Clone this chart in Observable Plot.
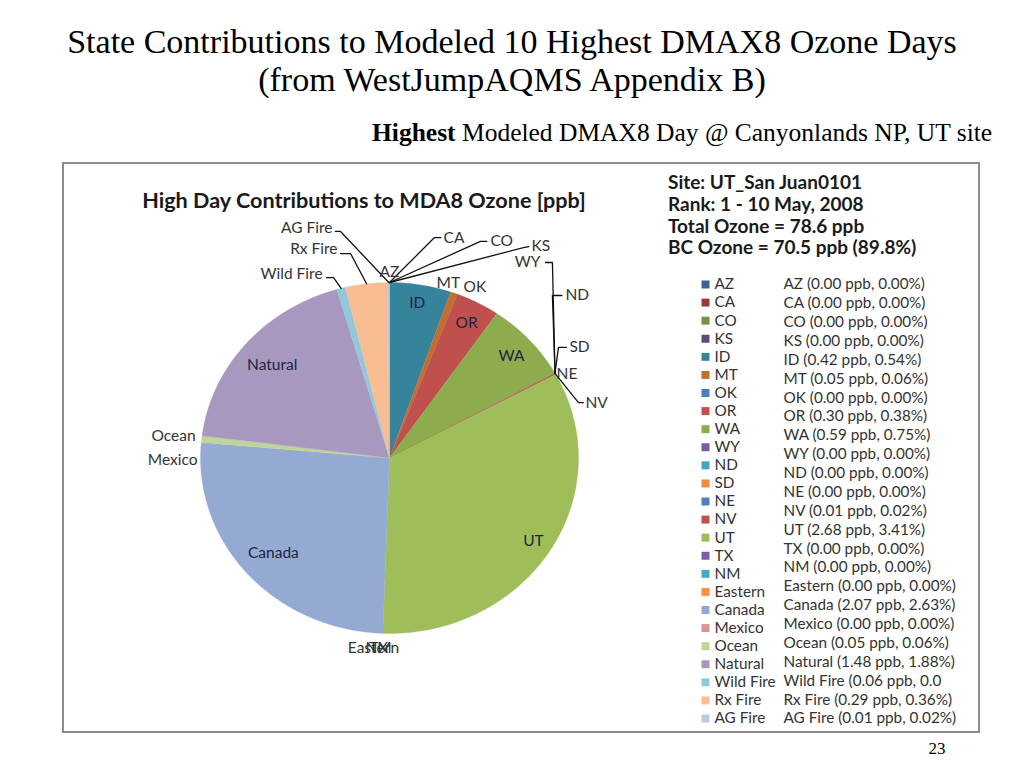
<!DOCTYPE html>
<html>
<head>
<meta charset="utf-8">
<script src="https://cdn.jsdelivr.net/npm/d3@7"></script>
<script src="https://cdn.jsdelivr.net/npm/@observablehq/plot@0.6"></script>
<style>
  body { margin: 0; background: #fff; }
  #page { position: relative; width: 1024px; height: 768px; overflow: hidden; background: #fff; }
  .abs { position: absolute; }
  #title { left: 0; width: 1024px; top: 23px; text-align: center; font-family: "Liberation Serif", serif; font-size: 34px; line-height: 38px; color: #000; white-space: nowrap; }
  #subtitle { left: 372px; top: 119px; font-family: "Liberation Serif", serif; font-size: 25.5px; line-height: 28px; color: #000; white-space: nowrap; }
  #frame { left: 62px; top: 162px; width: 914px; height: 567px; border: 2px solid #8c8c8c; }
  #charttitle { left: 64px; width: 600px; top: 186px; text-align: center; font-family: Lato, sans-serif; font-weight: bold; font-size: 21.6px; line-height: 28px; color: #1a1a1a; white-space: nowrap; }
  #info { left: 668px; top: 171px; font-family: Lato, sans-serif; font-weight: bold; font-size: 19px; line-height: 21.8px; color: #1a1a1a; white-space: nowrap; }
  #slideno { left: 915px; width: 44px; top: 739px; text-align: center; font-family: "Liberation Serif", serif; font-size: 17px; color: #000; }
  #pie, #legend, #values { position: absolute; }
  #pie { left: 0; top: 0; }
  #legend { left: 695px; top: 270px; }
  #values { left: 783px; top: 270px; }
</style>
</head>
<body>
<div id="page">
  <div id="title" class="abs"></div>
  <div id="subtitle" class="abs"></div>
  <div id="frame" class="abs"></div>
  <div id="charttitle" class="abs"></div>
  <div id="info" class="abs"></div>
  <div id="pie"></div>
  <div id="legend"></div>
  <div id="values"></div>
  <div id="slideno" class="abs">23</div>
</div>
<script>
// ---- Data ----
const titleLines = ["State Contributions to Modeled 10 Highest DMAX8 Ozone Days", "(from WestJumpAQMS Appendix B)"];
const subtitleBold = "Highest";
const subtitleRest = " Modeled DMAX8 Day @ Canyonlands NP, UT site";
const chartTitle = "High Day Contributions to MDA8 Ozone [ppb]";
const infoLines = ["Site: UT_San Juan0101", "Rank: 1 - 10 May, 2008", "Total Ozone = 78.6 ppb", "BC Ozone = 70.5 ppb (89.8%)"];

const categories = ["AZ","CA","CO","KS","ID","MT","OK","OR","WA","WY","ND","SD","NE","NV","UT","TX","NM","Eastern","Canada","Mexico","Ocean","Natural","Wild Fire","Rx Fire","AG Fire"];
const values     = [0, 0, 0, 0, 0.42, 0.05, 0, 0.30, 0.59, 0, 0, 0, 0, 0.01, 2.68, 0, 0, 0, 2.07, 0, 0.05, 1.48, 0.06, 0.29, 0.01];
// Value text column as printed in the picture (24 lines, no SD line; Wild Fire line is cut off)
const legendValueLabels = [
  "AZ (0.00 ppb, 0.00%)","CA (0.00 ppb, 0.00%)","CO (0.00 ppb, 0.00%)","KS (0.00 ppb, 0.00%)",
  "ID (0.42 ppb, 0.54%)","MT (0.05 ppb, 0.06%)","OK (0.00 ppb, 0.00%)","OR (0.30 ppb, 0.38%)",
  "WA (0.59 ppb, 0.75%)","WY (0.00 ppb, 0.00%)","ND (0.00 ppb, 0.00%)","NE (0.00 ppb, 0.00%)",
  "NV (0.01 ppb, 0.02%)","UT (2.68 ppb, 3.41%)","TX (0.00 ppb, 0.00%)","NM (0.00 ppb, 0.00%)",
  "Eastern (0.00 ppb, 0.00%)","Canada (2.07 ppb, 2.63%)","Mexico (0.00 ppb, 0.00%)","Ocean (0.05 ppb, 0.06%)",
  "Natural (1.48 ppb, 1.88%)","Wild Fire (0.06 ppb, 0.0","Rx Fire (0.29 ppb, 0.36%)","AG Fire (0.01 ppb, 0.02%)"
];
const colors = ["#3d6396","#943b39","#77923f","#5f4a7d","#35849c","#c06f30","#4a7ebd","#c0504d","#8cac4e","#7b5ea0","#45a5c1","#ee8c3f","#4f81bd","#c0504d","#9ebe5a","#7b5ea0","#45a9c6","#f7913f","#94aad3","#d79593","#c0d49a","#a898c0","#93c7da","#f9bd93","#b9c8e3"];

// Slices labelled inside the pie (radius fraction along the slice's mid-angle)
const insideLabels = [
  {name: "ID", r: 0.896}, {name: "OR", r: 0.873}, {name: "WA", r: 0.87},
  {name: "UT", r: 0.896}, {name: "Canada", r: 0.82}, {name: "Natural", r: 0.817}
];

// Outside label placement (pie-radius units, y up) and leader-line bends
const outsideLabels = [
  {name: "AZ", at: [0, 1.057], anchor: "middle"},
  {name: "CA", at: [0.286, 1.256], anchor: "start", bend: [[0.238, 1.256], [0.272, 1.256]]},
  {name: "CO", at: [0.534, 1.234], anchor: "start", bend: [[0.481, 1.234], [0.515, 1.234]]},
  {name: "KS", at: [0.751, 1.205], anchor: "start", bend: [[0.709, 1.199], [0.737, 1.205]]},
  {name: "WY", at: [0.799, 1.114], anchor: "end", bend: [[0.862, 1.114], [0.825, 1.114]]},
  {name: "ND", at: [0.931, 0.926], anchor: "start", bend: [[0.862, 0.926], [0.912, 0.926]]},
  {name: "SD", at: [0.952, 0.630], anchor: "start", bend: [[0.894, 0.630], [0.937, 0.630]]},
  {name: "NE", at: [0.884, 0.476], anchor: "start"},
  {name: "NV", at: [1.037, 0.316], anchor: "start", bend: [[1.0, 0.316], [1.026, 0.316]]},
  {name: "MT", at: [0.249, 0.997], anchor: "start"},
  {name: "OK", at: [0.392, 0.972], anchor: "start"},
  {name: "Eastern", at: [-0.085, -1.085], anchor: "middle"},
  {name: "TX", at: [-0.058, -1.085], anchor: "middle"},
  {name: "NM", at: [-0.058, -1.085], anchor: "middle"},
  {name: "Mexico", at: [-1.016, -0.014], anchor: "end"},
  {name: "Ocean", at: [-1.026, 0.128], anchor: "end"},
  {name: "Wild Fire", at: [-0.354, 1.051], anchor: "end", bend: [[-0.296, 1.028], [-0.333, 1.028]]},
  {name: "Rx Fire", at: [-0.275, 1.188], anchor: "end", bend: [[-0.206, 1.165], [-0.259, 1.165]]},
  {name: "AG Fire", at: [-0.302, 1.313], anchor: "end", bend: [[-0.259, 1.291], [-0.286, 1.291]]}
];

// ---- Text ----
document.getElementById("title").innerHTML = titleLines.join("<br>");
document.getElementById("subtitle").innerHTML = "<b>" + subtitleBold + "</b>" + subtitleRest;
document.getElementById("charttitle").textContent = chartTitle;
document.getElementById("info").innerHTML = infoLines.join("<br>");

// ---- Pie geometry from data ----
const total = d3.sum(values);
let cum = 0;
const slices = categories.map((name, i) => {
  const a0 = cum / total * 2 * Math.PI;
  cum += values[i];
  const a1 = cum / total * 2 * Math.PI;
  return {name, value: values[i], a0, a1, mid: (a0 + a1) / 2};
});
const sliceByName = new Map(slices.map(s => [s.name, s]));

const wedgePoints = [];
for (const s of slices) {
  if (s.value <= 0) continue;
  const n = Math.max(2, Math.ceil((s.a1 - s.a0) / (Math.PI / 360)));
  wedgePoints.push({name: s.name, x: 0, y: 0});
  for (let k = 0; k <= n; k++) {
    const a = s.a0 + (s.a1 - s.a0) * k / n;
    wedgePoints.push({name: s.name, x: Math.sin(a), y: Math.cos(a)});
  }
  wedgePoints.push({name: s.name, x: 0, y: 0});
}

const inside = insideLabels.map(d => {
  const s = sliceByName.get(d.name);
  return {name: d.name, x: d.r * Math.sin(s.mid), y: d.r * Math.cos(s.mid)};
});
const outside = outsideLabels.map(d => ({name: d.name, anchor: d.anchor, x: d.at[0], y: d.at[1]}));
const leaders = [];
for (const d of outsideLabels) {
  if (!d.bend) continue;
  const s = sliceByName.get(d.name);
  leaders.push({name: d.name, x: Math.sin(s.mid), y: Math.cos(s.mid)});
  for (const p of d.bend) leaders.push({name: d.name, x: p[0], y: p[1]});
}

const font = "Lato, sans-serif";
const fs = 15.5;
const pie = Plot.plot({
  width: 1024, height: 768, margin: 0,
  style: {background: "transparent", fontFamily: font},
  x: {type: "linear", domain: [-1, 1], range: [200, 578], axis: null},
  y: {type: "linear", domain: [-1, 1], range: [633, 282], axis: null},
  color: {domain: categories, range: colors},
  marks: [
    Plot.line(wedgePoints, {x: "x", y: "y", z: "name", fill: "name", stroke: "name", strokeWidth: 0.3, curve: "linear"}),
    Plot.line(leaders, {x: "x", y: "y", z: "name", stroke: "#111", strokeWidth: 1.3}),
    Plot.text(inside, {x: "x", y: "y", text: "name", fill: "#1c2540", fontSize: fs, fontFamily: font, lineAnchor: "middle"}),
    Plot.text(outside.filter(d => d.anchor === "start"), {x: "x", y: "y", text: "name", textAnchor: "start", fill: "#333", fontSize: fs, fontFamily: font, lineAnchor: "middle"}),
    Plot.text(outside.filter(d => d.anchor === "end"), {x: "x", y: "y", text: "name", textAnchor: "end", fill: "#333", fontSize: fs, fontFamily: font, lineAnchor: "middle"}),
    Plot.text(outside.filter(d => d.anchor === "middle"), {x: "x", y: "y", text: "name", textAnchor: "middle", fill: "#333", fontSize: fs, fontFamily: font, lineAnchor: "middle"})
  ]
});
document.getElementById("pie").appendChild(pie);

// ---- Legend (swatches + names) ----
const legendFs = 15.3;
const legend = Plot.plot({
  width: 88, height: 460, margin: 0,
  style: {background: "transparent", fontFamily: font, overflow: "visible"},
  y: {type: "linear", domain: [0, categories.length - 1], range: [14, 448], axis: null},
  color: {domain: categories, range: colors},
  marks: [
    Plot.dot(categories, {y: (d, i) => i, frameAnchor: "left", dx: 10, symbol: "square", r: 4.5, fill: d => d, stroke: null}),
    Plot.text(categories, {y: (d, i) => i, text: d => d, frameAnchor: "left", dx: 19, textAnchor: "start", fill: "#333", fontSize: legendFs, fontFamily: font, lineAnchor: "middle"})
  ]
});
document.getElementById("legend").appendChild(legend);

// ---- Value text column (its own evenly spaced list) ----
const valueCol = Plot.plot({
  width: 195, height: 460, margin: 0,
  style: {background: "transparent", fontFamily: font, overflow: "visible"},
  y: {type: "linear", domain: [0, legendValueLabels.length - 1], range: [14, 448], axis: null},
  marks: [
    Plot.text(legendValueLabels, {y: (d, i) => i, text: d => d, frameAnchor: "left", textAnchor: "start", fill: "#333", fontSize: legendFs, fontFamily: font, lineAnchor: "middle"})
  ]
});
document.getElementById("values").appendChild(valueCol);
</script>
</body>
</html>
